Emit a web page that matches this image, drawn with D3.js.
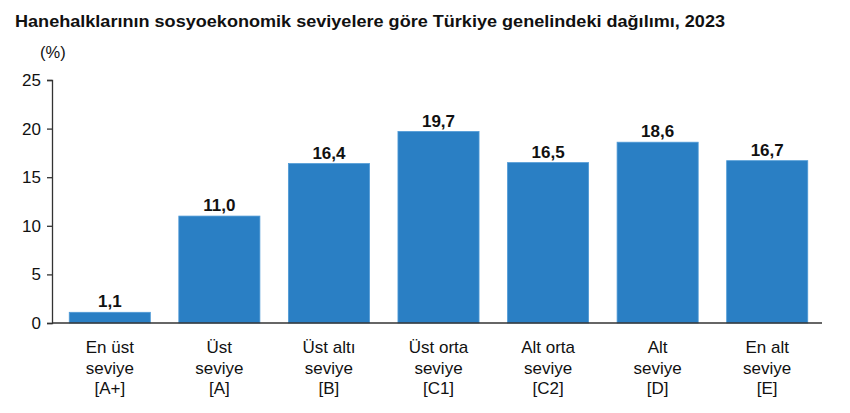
<!DOCTYPE html>
<html>
<head>
<meta charset="utf-8">
<script src="https://d3js.org/d3.v7.min.js"></script>
<style>
  body { margin: 0; background: #fff; }
  text { font-family: "Liberation Sans", Arial, sans-serif; fill: #111; }
</style>
</head>
<body>
<svg id="chart" width="850" height="413"></svg>
<script>
// data
var categories = ["A+", "A", "B", "C1", "C2", "D", "E"];
var labelLines = [
  ["En üst", "seviye", "[A+]"],
  ["Üst", "seviye", "[A]"],
  ["Üst altı", "seviye", "[B]"],
  ["Üst orta", "seviye", "[C1]"],
  ["Alt orta", "seviye", "[C2]"],
  ["Alt", "seviye", "[D]"],
  ["En alt", "seviye", "[E]"]
];
var shares = [1.1, 11.0, 16.4, 19.7, 16.5, 18.6, 16.7];
var yTicks = [0, 5, 10, 15, 20, 25];

var svg = d3.select("#chart");

//title and unit (the picture is a bit wider than the font, so stretch the title)
svg.append("text")
  .attr("x", 15).attr("y", 27)
  .attr("font-size", 16.5).attr("font-weight", "bold")
  .attr("textLength", 710).attr("lengthAdjust", "spacingAndGlyphs")
  .text("Hanehalklarının sosyoekonomik seviyelere göre Türkiye genelindeki dağılımı, 2023");
svg.append("text")
  .attr("x", 40).attr("y", 58)
  .attr("font-size", 16.5)
  .text("(%)");

//scales
var x = d3.scaleBand().domain(categories).range([55, 822]).paddingInner(0.26).paddingOuter(0.13);
var y = d3.scaleLinear().domain([0, 25]).range([323, 80]);

//y axis
var yAxis = svg.append("g")
  .attr("transform", "translate(52,0)")
  .call(d3.axisLeft(y).tickValues(yTicks).tickSize(5).tickPadding(6));
yAxis.select(".domain").attr("stroke", "#333").attr("stroke-width", 1.3);
yAxis.selectAll(".tick line").attr("stroke", "#333").attr("stroke-width", 1.3);
yAxis.selectAll(".tick text").attr("font-size", 17).attr("font-family", "Liberation Sans, Arial, sans-serif").attr("fill", "#111");

//bars
svg.append("g").selectAll("rect")
  .data(shares)
  .enter().append("rect")
  .attr("x", function(d, i) { return x(categories[i]); })
  .attr("y", function(d) { return y(d); })
  .attr("width", x.bandwidth())
  .attr("height", function(d) { return y(0) - y(d); })
  .attr("fill", "#2a7fc4")
  .attr("stroke", "#4f9ad6")
  .attr("stroke-width", 0.8);

//x axis line
svg.append("line")
  .attr("x1", 52).attr("x2", 822)
  .attr("y1", y(0)).attr("y2", y(0))
  .attr("stroke", "#333").attr("stroke-width", 1.3);

//value labels
svg.append("g").selectAll("text")
  .data(shares)
  .enter().append("text")
  .attr("x", function(d, i) { return x(categories[i]) + x.bandwidth() / 2; })
  .attr("y", function(d) { return y(d) - 5; })
  .attr("text-anchor", "middle")
  .attr("font-size", 17).attr("font-weight", "bold")
  .text(function(d) { return d.toFixed(1).replace(".", ","); });

//category labels, three lines each
var cat = svg.append("g").selectAll("text")
  .data(labelLines)
  .enter().append("text")
  .attr("text-anchor", "middle")
  .attr("font-size", 17);
cat.selectAll("tspan")
  .data(function(d, i) { return d.map(function(t) { return {t: t, i: i}; }); })
  .enter().append("tspan")
  .attr("x", function(d) { return x(categories[d.i]) + x.bandwidth() / 2; })
  .attr("y", function(d, j) { return 353 + j * 20.5; })
  .text(function(d) { return d.t; });
</script>
</body>
</html>
